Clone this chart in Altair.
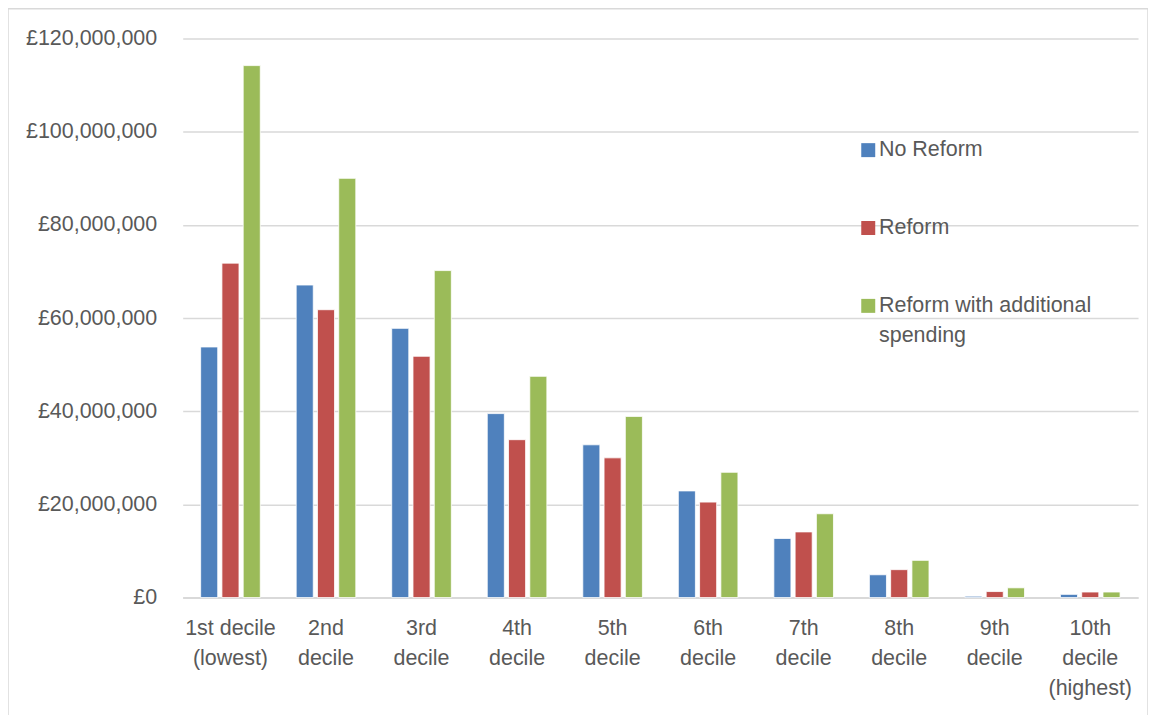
import json
import altair as alt
import pandas as pd

categories = ["1st decile (lowest)", "2nd decile", "3rd decile", "4th decile", "5th decile",
              "6th decile", "7th decile", "8th decile", "9th decile", "10th decile (highest)"]
tick_lines = [["1st decile", "(lowest)"], ["2nd", "decile"], ["3rd", "decile"], ["4th", "decile"],
              ["5th", "decile"], ["6th", "decile"], ["7th", "decile"], ["8th", "decile"],
              ["9th", "decile"], ["10th", "decile", "(highest)"]]
series = ["No Reform", "Reform", "Reform with additional spending"]
legend_lines = [["No Reform"], ["Reform"], ["Reform with additional", "spending"]]
colors = ["#4F81BD", "#C0504D", "#9BBB59"]

no_reform = [53.8e6, 67.1e6, 57.8e6, 39.5e6, 32.8e6, 22.9e6, 12.7e6, 4.9e6, 0.3e6, 0.7e6]
reform = [71.8e6, 61.8e6, 51.8e6, 33.9e6, 30.0e6, 20.5e6, 14.1e6, 6.0e6, 1.3e6, 1.2e6]
reform_additional = [114.2e6, 90.0e6, 70.2e6, 47.5e6, 38.9e6, 26.9e6, 18.0e6, 8.0e6, 2.1e6, 1.2e6]
y_ticks = [0, 20e6, 40e6, 60e6, 80e6, 100e6, 120e6]

rows = []
for name, vals in zip(series, [no_reform, reform, reform_additional]):
    for c, v in zip(categories, vals):
        rows.append({"decile": c, "series": name, "value": v})
df = pd.DataFrame(rows)

x_label_expr = json.dumps(dict(zip(categories, tick_lines))) + "[datum.value]"
legend_label_expr = json.dumps(dict(zip(series, legend_lines))) + "[datum.label]"

FONT = "Liberation Sans"
GREY = "#595959"
GRID = "#d9d9d9"

bars = alt.Chart(df).mark_bar(stroke="white", strokeWidth=0.8).encode(
    x=alt.X("decile:N", sort=categories,
            scale=alt.Scale(paddingInner=0.376, paddingOuter=0.188),
            axis=alt.Axis(title=None, labelAngle=0, labelExpr=x_label_expr, labelPadding=20,
                          labelLineHeight=30, ticks=False, tickSize=0, domainColor=GRID,
                          domainWidth=2, labelFontSize=21.5, labelColor=GREY, grid=False,
                          labelFont=FONT)),
    xOffset=alt.XOffset("series:N", sort=series,
                        scale=alt.Scale(paddingInner=0.197, paddingOuter=0)),
    y=alt.Y("value:Q", scale=alt.Scale(domain=[0, 120e6], nice=False),
            axis=alt.Axis(title=None, values=y_ticks, labelExpr="'£' + format(datum.value, ',')",
                          ticks=False, tickSize=0, domain=False, gridColor=GRID, gridWidth=1.5,
                          labelPadding=26, labelFontSize=21.5, labelColor=GREY, labelFont=FONT)),
    color=alt.Color("series:N", sort=series,
                    scale=alt.Scale(domain=series, range=colors),
                    legend=alt.Legend(title=None, orient="none", legendX=676, legendY=101,
                                      symbolType="square", symbolSize=196, symbolStrokeWidth=0,
                                      labelFontSize=21.5, labelColor=GREY, labelFont=FONT,
                                      labelOffset=0, rowPadding=55, labelLimit=400, padding=0,
                                      labelExpr=legend_label_expr, labelBaseline="middle")),
)

border = alt.Chart(alt.Data(values=[{}])).mark_rect(
    fillOpacity=0, stroke=GRID, strokeWidth=1.5, clip=False
).encode(
    x=alt.value(-175), x2=alt.value(967), y=alt.value(-30), y2=alt.value(720)
)

chart = alt.layer(border, bars).properties(
    width=957, height=560,
    padding={"left": 175, "top": 30, "right": 10, "bottom": 140},
    autosize=alt.AutoSizeParams(type="none"),
).configure(
    style={"guide-label": {"lineHeight": 30}}
).configure_view(strokeWidth=0)

chart.save("out.html", embed_options={"renderer": "svg", "actions": False})
